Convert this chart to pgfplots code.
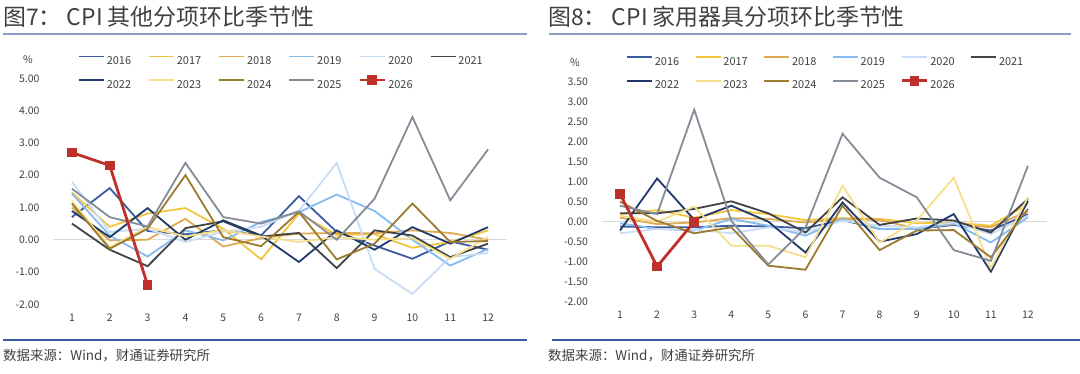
\documentclass[border=0pt]{standalone}
\usepackage{fontspec}
\setmainfont{Noto Sans CJK SC}
\usepackage{pgfplots}
\pgfplotsset{compat=1.18}
\usepackage{pgfplotstable}

\definecolor{c16}{HTML}{3A5BA0}
\definecolor{c17}{HTML}{F2C53D}
\definecolor{c18}{HTML}{E0AA50}
\definecolor{c19}{HTML}{86BBEF}
\definecolor{c20}{HTML}{C8DDF5}
\definecolor{c21}{HTML}{404448}
\definecolor{c22}{HTML}{1F3A6A}
\definecolor{c23}{HTML}{F5DF8A}
\definecolor{c24}{HTML}{9C7A30}
\definecolor{c25}{HTML}{848C98}
\definecolor{c26}{HTML}{C0302A}
\definecolor{txtgray}{HTML}{404040}
\definecolor{titleline}{HTML}{8A9CC8}
\definecolor{botline}{HTML}{3A5BA0}
\definecolor{zeroline}{HTML}{D9D9D9}

\pgfplotstableread{
m y16 y17 y18 y19 y20 y21 y22 y23 y24 y25
1 0.70 1.46 1.00 1.43 1.79 0.50 0.89 1.20 1.12 1.58
2 1.60 0.40 -0.02 0.13 0.24 -0.31 0.08 -0.23 -0.28 0.70
3 0.27 0.81 0.00 -0.52 0.34 -0.82 0.98 0.40 0.34 0.41
4 0.17 0.98 0.65 0.29 -0.07 0.36 0.00 0.10 2.00 2.38
5 0.29 0.34 -0.21 -0.02 0.25 0.57 0.60 0.30 0.08 0.70
6 0.13 -0.61 0.05 0.55 0.40 0.10 0.13 0.10 -0.20 0.50
7 1.35 0.81 0.19 0.85 0.90 0.21 -0.69 -0.07 0.86 0.88
8 0.24 0.15 0.21 1.40 2.38 -0.88 0.29 0.08 -0.61 0.00
9 -0.18 0.17 0.20 0.89 -0.90 0.29 -0.31 0.00 -0.12 1.27
10 -0.59 -0.25 0.29 0.00 -1.68 0.13 0.39 0.05 1.12 3.80
11 -0.05 -0.07 0.21 -0.80 -0.54 -0.54 -0.12 -0.59 -0.07 1.22
12 -0.31 0.29 0.00 -0.28 -0.41 -0.12 0.39 0.08 -0.04 2.80
}\tblL

\pgfplotstableread{
m y16 y17 y18 y19 y20 y21 y22 y23 y24 y25
1 -0.12 0.19 0.10 -0.04 -0.29 0.21 -0.22 0.15 0.50 0.40
2 -0.14 0.29 -0.06 -0.18 -0.18 0.21 1.08 0.00 0.02 0.19
3 -0.14 0.10 -0.02 -0.22 -0.20 0.32 0.05 0.38 -0.29 2.80
4 -0.10 0.29 0.09 0.07 -0.29 0.51 0.40 -0.60 -0.14 0.02
5 -0.12 0.19 0.07 -0.10 -0.14 0.21 0.00 -0.60 -1.10 -1.07
6 -0.16 0.04 -0.02 -0.35 -0.27 -0.27 -0.77 -0.89 -1.20 -0.15
7 0.04 0.09 0.07 0.07 0.03 0.61 0.48 0.90 0.40 2.20
8 -0.18 0.07 0.04 -0.18 -0.10 -0.08 -0.50 -0.52 -0.71 1.10
9 -0.18 -0.04 -0.17 -0.18 -0.14 0.08 -0.31 0.03 -0.22 0.61
10 -0.08 -0.02 -0.06 -0.04 -0.02 0.03 0.19 1.10 -0.21 -0.71
11 -0.22 -0.10 -0.14 -0.52 -0.31 -0.27 -1.25 -1.16 -0.89 -0.98
12 0.19 0.44 0.26 0.11 0.15 0.57 0.52 0.61 0.32 1.40
}\tblR

\pgfplotsset{
  panel/.style={
    scale only axis,
    axis line style={draw=none},
    major tick length=0pt,
    xmin=0.5, xmax=12.5,
    xtick={1,...,12},
    /pgf/number format/assume math mode=true,
    tick label style={font=\fontsize{10.5}{12}\selectfont, text=txtgray},
    yticklabel style={xshift=-10bp},
    xticklabel style={yshift=-6bp},
    clip=false,
    legend columns=6,
    legend cell align=left,
    legend style={draw=none, fill=none, anchor=north west,
      font=\fontsize{11}{13}\selectfont, text=txtgray,
      nodes={inner sep=0pt, text height=8bp, text depth=0pt},
      row sep=12bp,
      /tikz/every odd column/.append style={column sep=2bp}},
    legend image code/.code={\draw[mark repeat=2,mark phase=2,##1] plot coordinates {(0bp,4bp) (12.5bp,4bp) (25bp,4bp)};},
    every axis plot/.append style={line width=1.8bp, mark=none},
  },
}

\begin{document}
\begin{tikzpicture}
\path[use as bounding box] (0,0) rectangle (1080bp,-374bp);
% titles
\node[anchor=west, font=\fontsize{23}{26}\selectfont, text=txtgray, inner sep=0pt] at (3bp,-17bp) {图7： CPI 其他分项环比季节性};
\node[anchor=west, font=\fontsize{23}{26}\selectfont, text=txtgray, inner sep=0pt] at (548bp,-17bp) {图8： CPI 家用器具分项环比季节性};
\draw[titleline, line width=1.5bp] (3bp,-34bp) -- (527bp,-34bp);
\draw[titleline, line width=1.5bp] (549bp,-34bp) -- (1071bp,-34bp);
\draw[botline, line width=1.2bp] (3bp,-340bp) -- (527bp,-340bp);
\draw[botline, line width=1.2bp] (552bp,-340bp) -- (1080bp,-340bp);
\node[anchor=west, font=\fontsize{13.5}{15}\selectfont, text=txtgray, inner sep=0pt] at (3bp,-356bp) {数据来源：Wind，财通证券研究所};
\node[anchor=west, font=\fontsize{13.5}{15}\selectfont, text=txtgray, inner sep=0pt] at (548bp,-356bp) {数据来源：Wind，财通证券研究所};
\node[font=\fontsize{10.5}{12}\selectfont, text=txtgray] at (28bp,-60bp) {\%};
\node[font=\fontsize{10.5}{12}\selectfont, text=txtgray] at (575bp,-63bp) {\%};

% left panel
\begin{axis}[panel,
  at={(53bp,-304.3bp)}, anchor=south west,
  width=454bp, height=226bp,
  ymin=-2, ymax=5,
  ytick={-2,-1,0,1,2,3,4,5},
  yticklabels={-2.00,-1.00,0.00,1.00,2.00,3.00,4.00,5.00},
  legend style={at={(axis description cs:0.048,1.11)},
    /tikz/every even column/.append style={column sep=17bp}},
]
\addplot[zeroline, line width=1bp, forget plot] coordinates {(0.5,0) (12.5,0)};
\addplot[c16] table[x=m,y=y16]{\tblL};\addlegendentry{2016}
\addplot[c17] table[x=m,y=y17]{\tblL};\addlegendentry{2017}
\addplot[c18] table[x=m,y=y18]{\tblL};\addlegendentry{2018}
\addplot[c19] table[x=m,y=y19]{\tblL};\addlegendentry{2019}
\addplot[c20] table[x=m,y=y20]{\tblL};\addlegendentry{2020}
\addplot[c21] table[x=m,y=y21]{\tblL};\addlegendentry{2021}
\addplot[c22] table[x=m,y=y22]{\tblL};\addlegendentry{2022}
\addplot[c23] table[x=m,y=y23]{\tblL};\addlegendentry{2023}
\addplot[c24] table[x=m,y=y24]{\tblL};\addlegendentry{2024}
\addplot[c25] table[x=m,y=y25]{\tblL};\addlegendentry{2025}
\addplot[c26, line width=2.8bp, mark=square*, mark size=3.5bp] coordinates {(1,2.70) (2,2.30) (3,-1.40)};\addlegendentry{2026}
\end{axis}

% right panel
\begin{axis}[panel,
  at={(601.5bp,-301.7bp)}, anchor=south west,
  width=445bp, height=220bp,
  ymin=-2, ymax=3.5,
  ytick={-2,-1.5,-1,-0.5,0,0.5,1,1.5,2,2.5,3,3.5},
  yticklabels={-2.00,-1.50,-1.00,-0.50,0.00,0.50,1.00,1.50,2.00,2.50,3.00,3.50},
  legend style={at={(axis description cs:0.048,1.125)},
    /tikz/every even column/.append style={column sep=15.5bp}},
]
\addplot[zeroline, line width=1bp, forget plot] coordinates {(0.5,0) (12.5,0)};
\addplot[c16] table[x=m,y=y16]{\tblR};\addlegendentry{2016}
\addplot[c17] table[x=m,y=y17]{\tblR};\addlegendentry{2017}
\addplot[c18] table[x=m,y=y18]{\tblR};\addlegendentry{2018}
\addplot[c19] table[x=m,y=y19]{\tblR};\addlegendentry{2019}
\addplot[c20] table[x=m,y=y20]{\tblR};\addlegendentry{2020}
\addplot[c21] table[x=m,y=y21]{\tblR};\addlegendentry{2021}
\addplot[c22] table[x=m,y=y22]{\tblR};\addlegendentry{2022}
\addplot[c23] table[x=m,y=y23]{\tblR};\addlegendentry{2023}
\addplot[c24] table[x=m,y=y24]{\tblR};\addlegendentry{2024}
\addplot[c25] table[x=m,y=y25]{\tblR};\addlegendentry{2025}
\addplot[c26, line width=2.8bp, mark=square*, mark size=3.5bp] coordinates {(1,0.69) (2,-1.12) (3,0.00)};\addlegendentry{2026}
\end{axis}
\end{tikzpicture}
\end{document}
